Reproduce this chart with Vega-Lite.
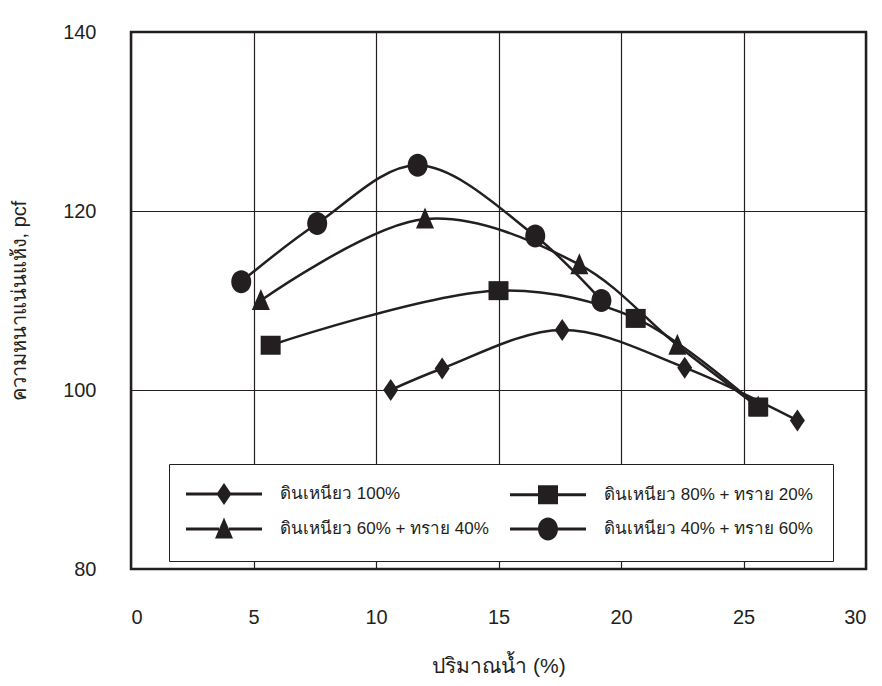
{
  "$schema": "https://vega.github.io/schema/vega-lite/v6.json",
  "width": 735,
  "height": 537,
  "autosize": {"type": "none"},
  "padding": {"left": 131, "top": 32, "right": 16, "bottom": 117},
  "background": "white",
  "config": {
    "view": {"stroke": "#231f20", "strokeWidth": 2.5},
    "font": "Liberation Sans"
  },
  "data": {
    "values": [
      {"series": "ดินเหนียว 100%", "water": 10.6, "density": 100.0},
      {"series": "ดินเหนียว 100%", "water": 12.7, "density": 102.4},
      {"series": "ดินเหนียว 100%", "water": 17.6, "density": 106.7},
      {"series": "ดินเหนียว 100%", "water": 22.6, "density": 102.5},
      {"series": "ดินเหนียว 100%", "water": 27.2, "density": 96.6},
      {"series": "ดินเหนียว 60% + ทราย 40%", "water": 5.3, "density": 110.0},
      {"series": "ดินเหนียว 60% + ทราย 40%", "water": 12.0, "density": 119.1},
      {"series": "ดินเหนียว 60% + ทราย 40%", "water": 18.3, "density": 114.0},
      {"series": "ดินเหนียว 60% + ทราย 40%", "water": 22.3, "density": 105.0},
      {"series": "ดินเหนียว 60% + ทราย 40%", "water": 25.6, "density": 98.1},
      {"series": "ดินเหนียว 80% + ทราย 20%", "water": 5.7, "density": 105.0},
      {"series": "ดินเหนียว 80% + ทราย 20%", "water": 15.0, "density": 111.1},
      {"series": "ดินเหนียว 80% + ทราย 20%", "water": 20.6, "density": 108.0},
      {"series": "ดินเหนียว 80% + ทราย 20%", "water": 25.6, "density": 98.1},
      {"series": "ดินเหนียว 40% + ทราย 60%", "water": 4.5, "density": 112.1},
      {"series": "ดินเหนียว 40% + ทราย 60%", "water": 7.6, "density": 118.6},
      {"series": "ดินเหนียว 40% + ทราย 60%", "water": 11.7, "density": 125.1},
      {"series": "ดินเหนียว 40% + ทราย 60%", "water": 16.5, "density": 117.2},
      {"series": "ดินเหนียว 40% + ทราย 60%", "water": 19.2, "density": 110.0}
    ]
  },
  "encoding": {
    "x": {
      "field": "water",
      "type": "quantitative",
      "scale": {"domain": [0, 30], "nice": false, "zero": false},
      "axis": {
        "title": "ปริมาณน้ำ (%)",
        "values": [0, 5, 10, 15, 20, 25, 30],
        "grid": true,
        "gridColor": "#231f20",
        "gridWidth": 1.2,
        "gridOpacity": 1,
        "domain": false,
        "ticks": false,
        "labelPadding": 38,
        "labelFontSize": 20,
        "labelColor": "#231f20",
        "labelFont": "Liberation Sans",
        "titleFontSize": 21,
        "titleFontWeight": "normal",
        "titleColor": "#231f20",
        "titlePadding": 28
      }
    },
    "y": {
      "field": "density",
      "type": "quantitative",
      "scale": {"domain": [80, 140], "nice": false, "zero": false},
      "axis": {
        "title": "ความหนาแน่นแห้ง, pcf",
        "values": [80, 100, 120, 140],
        "grid": true,
        "gridColor": "#231f20",
        "gridWidth": 1.2,
        "gridOpacity": 1,
        "domain": false,
        "ticks": false,
        "labelPadding": 35,
        "labelFontSize": 20,
        "labelColor": "#231f20",
        "labelFont": "Liberation Sans",
        "titleFontSize": 20,
        "titleFontWeight": "normal",
        "titleColor": "#231f20",
        "titlePadding": 33
      }
    }
  },
  "resolve": {"scale": {"shape": "independent"}, "legend": {"shape": "independent"}},
  "layer": [
    {
      "mark": {"type": "line", "interpolate": "catmull-rom", "color": "#231f20", "strokeWidth": 2.5},
      "encoding": {"detail": {"field": "series"}}
    },
    {
      "mark": {"type": "point", "filled": true, "color": "#231f20", "opacity": 1, "size": 400},
      "encoding": {
        "shape": {
          "field": "series",
          "type": "nominal",
          "scale": {
            "domain": ["ดินเหนียว 100%", "ดินเหนียว 80% + ทราย 20%", "ดินเหนียว 60% + ทราย 40%", "ดินเหนียว 40% + ทราย 60%"],
            "range": [
              "M0,-1.1L0.75,0L0,1.1L-0.75,0Z",
              "M-1,-0.95H1V0.95H-1Z",
              "M0,-1.15L0.9,0.95L-0.9,0.95Z",
              "M1,0A1,1.15 0 1,1 -1,0A1,1.15 0 1,1 1,0Z"
            ]
          },
          "legend": null
        }
      }
    },
    {
      "mark": {"type": "point", "filled": true, "color": "#231f20", "opacity": 0, "size": 400},
      "encoding": {
        "shape": {
          "field": "series",
          "type": "nominal",
          "scale": {
            "domain": ["ดินเหนียว 100%", "ดินเหนียว 80% + ทราย 20%", "ดินเหนียว 60% + ทราย 40%", "ดินเหนียว 40% + ทราย 60%"],
            "range": [
              "M-3.8,-0.15H-0.5V0.15H-3.8ZM0,-1.1L0.75,0L0,1.1L-0.75,0ZM0.5,-0.15H3.8V0.15H0.5Z",
              "M-3.8,-0.15H-0.9V0.15H-3.8ZM-1,-0.95H1V0.95H-1ZM0.9,-0.15H3.8V0.15H0.9Z",
              "M-3.8,-0.15H-0.5V0.15H-3.8ZM0,-1.15L0.9,0.95L-0.9,0.95ZM0.5,-0.15H3.8V0.15H0.5Z",
              "M-3.8,-0.15H-0.9V0.15H-3.8ZM1,0A1,1.15 0 1,1 -1,0A1,1.15 0 1,1 1,0ZM0.9,-0.15H3.8V0.15H0.9Z"
            ]
          },
          "legend": {
            "title": null,
            "orient": "none",
            "legendX": 38,
            "legendY": 432,
            "direction": "horizontal",
            "columns": 2,
            "padding": 20,
            "fillColor": "white",
            "strokeColor": "#231f20",
            "symbolSize": 400,
            "symbolOffset": 25,
            "labelOffset": 46,
            "columnPadding": 21,
            "rowPadding": 12,
            "labelFontSize": 17,
            "labelColor": "#231f20",
            "labelLimit": 400,
            "symbolFillColor": "#231f20",
            "symbolStrokeWidth": 0,
            "symbolOpacity": 1,
            "encode": {
              "legend": {"update": {"strokeWidth": {"value": 1.5}}}
            }
          }
        }
      }
    }
  ]
}
